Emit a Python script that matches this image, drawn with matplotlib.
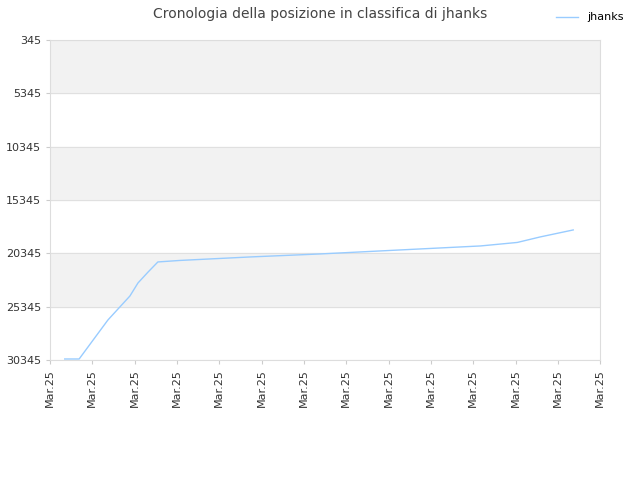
import matplotlib
matplotlib.use("Agg")
import matplotlib.pyplot as plt

days = [0.35, 0.69, 1.37, 1.89, 2.08, 2.32, 2.55, 3.07, 4.73, 6.38, 8.27, 10.17, 11.04, 11.58, 12.36]
positions = [30251, 30251, 26595, 24345, 23126, 22095, 21157, 21016, 20689, 20408, 20033, 19658, 19329, 18813, 18158]
yticks = [345, 5345, 10345, 15345, 20345, 25345, 30345]
xlabels = ["Mar.25"] * 14

fig = plt.figure(figsize=(6.4, 4.8), dpi=100)
ax = fig.add_axes([0.078, 0.25, 0.86, 0.667])

for i in range(len(yticks) - 1):
    if i % 2 == 0:
        ax.axhspan(yticks[i], yticks[i + 1], color="#f2f2f2", zorder=0)
for t in yticks:
    ax.axhline(t, color="#e0e0e0", lw=0.8, zorder=1)

ax.plot(days, positions, color="#99ccff", lw=1, label="jhanks", zorder=2)

ax.set_ylim(30345, 345)
ax.set_yticks(yticks)
ax.set_yticklabels([str(t) for t in yticks], fontsize=8, color="#333333")
ax.set_xlim(0, 13)
ax.set_xticks(range(14))
ax.set_xticklabels(xlabels, rotation=90, fontsize=8, color="#333333")
for s in ax.spines.values():
    s.set_color("#dddddd")
ax.tick_params(length=3, color="#cccccc")

fig.suptitle("Cronologia della posizione in classifica di jhanks", fontsize=10, color="#444444", y=0.985)
fig.legend(loc="upper right", bbox_to_anchor=(0.99, 0.995), frameon=False, fontsize=8)

fig.savefig("out.png")
